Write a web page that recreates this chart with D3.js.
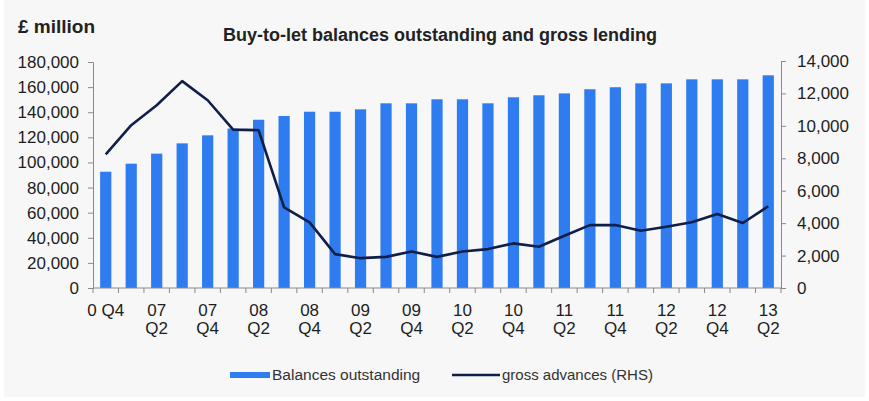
<!DOCTYPE html>
<html>
<head>
<meta charset="utf-8">
<script src="https://cdn.jsdelivr.net/npm/d3@7"></script>
<style>
  body { margin: 0; background: #ffffff; }
  svg { display: block; font-family: "Liberation Sans", Arial, sans-serif; }
  .axis text { font-size: 17px; fill: #1e1e1e; }
  .axis path, .axis line { stroke: #8a8a8a; }
</style>
</head>
<body>
<svg id="chart" width="869" height="401"></svg>
<script>
// quarters 06Q4 .. 13Q2
const quarters = ['06Q4','07Q1','07Q2','07Q3','07Q4','08Q1','08Q2','08Q3','08Q4',
  '09Q1','09Q2','09Q3','09Q4','10Q1','10Q2','10Q3','10Q4','11Q1','11Q2','11Q3','11Q4',
  '12Q1','12Q2','12Q3','12Q4','13Q1','13Q2'];
// £ million, left axis
const balances = [92600, 99000, 107000, 115200, 121600, 127000, 134000, 137000, 140400,
  140400, 142300, 147100, 147100, 150300, 150300, 147100, 151900, 153500, 155000, 158300,
  159900, 163000, 163000, 166200, 166200, 166200, 169400];
// £ million, right axis
const advances = [8240, 10040, 11270, 12760, 11580, 9770, 9730, 4970, 4050, 2090, 1840,
  1920, 2250, 1920, 2250, 2400, 2750, 2540, 3220, 3880, 3880, 3530, 3780, 4050, 4560, 4010, 5040];
const leftTicks = [0, 20000, 40000, 60000, 80000, 100000, 120000, 140000, 160000, 180000];
const rightTicks = [0, 2000, 4000, 6000, 8000, 10000, 12000, 14000];
// x labels: [top line, bottom line]
const xLabels = {'06Q4': ['0 Q4', ''], '07Q2': ['07','Q2'], '07Q4': ['07','Q4'], '08Q2': ['08','Q2'],
  '08Q4': ['08','Q4'], '09Q2': ['09','Q2'], '09Q4': ['09','Q4'], '10Q2': ['10','Q2'],
  '10Q4': ['10','Q4'], '11Q2': ['11','Q2'], '11Q4': ['11','Q4'], '12Q2': ['12','Q2'],
  '12Q4': ['12','Q4'], '13Q2': ['13','Q2']};

const svg = d3.select('#chart');
const mLeft = 93, mRight = 781, mTop = 62, mBottom = 288;
const fmt = d3.format(',');

// panel background
svg.append('rect').attr('x', 4).attr('y', 0).attr('width', 861).attr('height', 397).attr('fill', '#f7f7f7');

const x = d3.scaleBand().domain(quarters).range([mLeft, mRight]).paddingInner(0.56).paddingOuter(0.28);
const xb = d3.scaleBand().domain(quarters).range([mLeft, mRight]);
const yL = d3.scaleLinear().domain([0, 180000]).range([mBottom, mTop]);
const yR = d3.scaleLinear().domain([0, 14000]).range([mBottom, mTop - 1]);

svg.append('g').attr('class', 'axis')
  .attr('transform', `translate(${mLeft},0)`)
  .call(d3.axisLeft(yL).tickValues(leftTicks).tickFormat(fmt).tickSize(5).tickPadding(9));

svg.append('g').attr('class', 'axis')
  .attr('transform', `translate(${mRight},0)`)
  .call(d3.axisRight(yR).tickValues(rightTicks).tickFormat(fmt).tickSize(5).tickPadding(11));

svg.selectAll('rect.bar').data(quarters).enter().append('rect')
  .attr('class', 'bar')
  .attr('x', d => x(d))
  .attr('width', x.bandwidth())
  .attr('y', (d, i) => yL(balances[i]))
  .attr('height', (d, i) => mBottom - yL(balances[i]))
  .attr('fill', '#2e7cf0');

// x axis line and ticks at band boundaries
const xAxis = svg.append('g').attr('class', 'axis');
xAxis.append('line').attr('x1', mLeft).attr('x2', mRight).attr('y1', mBottom).attr('y2', mBottom);
xAxis.selectAll('line.tk').data(quarters.concat(['end'])).enter().append('line')
  .attr('class', 'tk')
  .attr('x1', (d, i) => i < quarters.length ? xb(d) : mRight)
  .attr('x2', (d, i) => i < quarters.length ? xb(d) : mRight)
  .attr('y1', mBottom).attr('y2', mBottom + 5);

const lab = xAxis.selectAll('g.lab').data(quarters.filter(q => xLabels[q])).enter().append('g')
  .attr('class', 'lab')
  .attr('transform', d => `translate(${xb(d) + xb.bandwidth() / 2},0)`);
lab.append('text').attr('y', 316).attr('text-anchor', 'middle')
  .text(d => xLabels[d][0]);
lab.append('text').attr('y', 334).attr('text-anchor', 'middle')
  .text(d => xLabels[d][1]);

const line = d3.line()
  .x((d, i) => xb(quarters[i]) + xb.bandwidth() / 2)
  .y(d => yR(d));
svg.append('path').datum(advances)
  .attr('d', line)
  .attr('fill', 'none')
  .attr('stroke', '#0f1f4a')
  .attr('stroke-width', 2.6)
  .attr('stroke-linejoin', 'round');

svg.append('text').attr('x', 18).attr('y', 33)
  .style('font-size', '19px').style('font-weight', 'bold').attr('fill', '#222')
  .text('£ million');
svg.append('text').attr('x', 440).attr('y', 41).attr('text-anchor', 'middle')
  .style('font-size', '18px').style('font-weight', 'bold').attr('fill', '#222')
  .text('Buy-to-let balances outstanding and gross lending');

// legend
const leg = svg.append('g');
leg.append('rect').attr('x', 230).attr('y', 372).attr('width', 40).attr('height', 6).attr('fill', '#2e7cf0');
leg.append('text').attr('x', 272).attr('y', 380).style('font-size', '15.5px').attr('fill', '#333')
  .text('Balances outstanding');
leg.append('line').attr('x1', 452).attr('x2', 500).attr('y1', 375).attr('y2', 375)
  .attr('stroke', '#0f1f4a').attr('stroke-width', 2.5);
leg.append('text').attr('x', 502).attr('y', 380).style('font-size', '15px').attr('fill', '#333')
  .text('gross advances (RHS)');
</script>
</body>
</html>
